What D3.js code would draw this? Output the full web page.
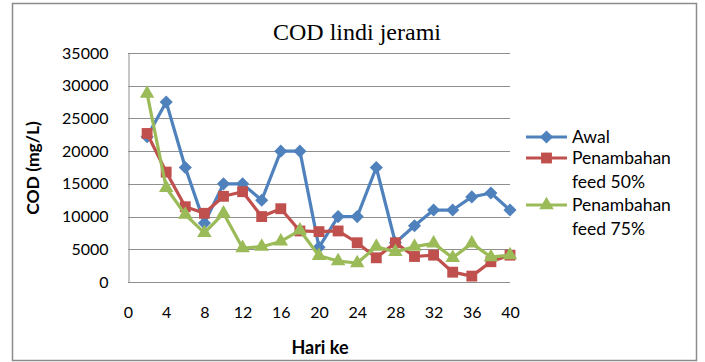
<!DOCTYPE html>
<html lang="en">
<head>
<meta charset="UTF-8">
<title>COD lindi jerami</title>
<style>
  body { margin: 0; background: #fff; }
  svg { display: block; }
</style>
</head>
<body>
<svg id="chart"></svg>
<script src="https://cdn.jsdelivr.net/npm/d3@7/dist/d3.min.js"></script>
<script>
// data
const hari = [2, 4, 6, 8, 10, 12, 14, 16, 18, 20, 22, 24, 26, 28, 30, 32, 34, 36, 38, 40];
const awal = [22200, 27500, 17500, 9000, 15000, 15000, 12500, 20000, 20000, 5300, 10000, 10000, 17500, 6000, 8600, 11000, 11000, 13000, 13600, 11000];
const feed50 = [22700, 16800, 11500, 10500, 13100, 13800, 10000, 11200, 7800, 7700, 7800, 6000, 3700, 6000, 3900, 4100, 1500, 900, 3100, 4100];
const feed75 = [28800, 14400, 10300, 7500, 10500, 5200, 5400, 6200, 7900, 4000, 3200, 2900, 5400, 4600, 5400, 5900, 3700, 5900, 3800, 4100];
const xTicks = [0, 4, 8, 12, 16, 20, 24, 28, 32, 36, 40];
const yTicks = [0, 5000, 10000, 15000, 20000, 25000, 30000, 35000];

const series = [
  { name: ["Awal"], values: awal, color: "#4F81BD", marker: d3.symbolDiamond2, size: 110 },
  { name: ["Penambahan", "feed 50%"], values: feed50, color: "#C0504D", marker: d3.symbolSquare2, size: 150 },
  { name: ["Penambahan", "feed 75%"], values: feed75, color: "#9BBB59", marker: d3.symbolTriangle2, size: 150 }
];

const W = 705, H = 362;
const svg = d3.select("#chart").attr("width", W).attr("height", H);
const font = "Lato, 'Open Sans', sans-serif";

// outer frame
svg.append("rect")
  .attr("x", 12.5).attr("y", 3.5)
  .attr("width", 684).attr("height", 357)
  .attr("fill", "#fff").attr("stroke", "#8c8c8c").attr("stroke-width", 1.5);

const x = d3.scaleLinear().domain([0, 40]).range([128, 510]);
const y = d3.scaleLinear().domain([0, 35000]).range([282, 53]);

// gridlines
svg.append("g")
  .selectAll("line")
  .data(yTicks)
  .enter().append("line")
  .attr("x1", x(0)).attr("x2", x(40))
  .attr("y1", d => Math.round(y(d)) + 0.5).attr("y2", d => Math.round(y(d)) + 0.5)
  .attr("stroke", "#8f8f8f").attr("stroke-width", 1);

// y axis
const yAxis = svg.append("g")
  .attr("transform", "translate(" + (x(0) + 0.5) + ",0)")
  .call(d3.axisLeft(y).tickValues(yTicks).tickSize(0).tickPadding(20).tickFormat(d3.format("d")));
yAxis.select(".domain").attr("stroke", "#8f8f8f");
yAxis.selectAll("text").attr("font-family", font).attr("font-size", 16).attr("fill", "#000");

// x axis
const xAxis = svg.append("g")
  .attr("transform", "translate(0," + (Math.round(y(0)) + 0.5) + ")")
  .call(d3.axisBottom(x).tickValues(xTicks).tickSize(0).tickPadding(24).tickFormat(d3.format("d")));
xAxis.select(".domain").remove();
xAxis.selectAll("text").attr("font-family", font).attr("font-size", 16).attr("fill", "#000");

// titles
svg.append("text")
  .attr("x", 357).attr("y", 40)
  .attr("text-anchor", "middle")
  .attr("font-family", "'Liberation Serif', 'Times New Roman', serif")
  .attr("font-size", 24)
  .text("COD lindi jerami");

svg.append("text")
  .attr("x", 320).attr("y", 354)
  .attr("text-anchor", "middle")
  .attr("font-family", font).attr("font-weight", "bold").attr("font-size", 18)
  .text("Hari ke");

svg.append("text")
  .attr("transform", "translate(39,168) rotate(-90)")
  .attr("text-anchor", "middle")
  .attr("font-family", font).attr("font-weight", "bold").attr("font-size", 17.5)
  .text("COD (mg/L)");

// series
const line = d3.line().x(d => x(d[0])).y(d => y(d[1]));
series.forEach(s => {
  const pts = hari.map((h, i) => [h, s.values[i]]);
  const g = svg.append("g");
  g.append("path")
    .datum(pts)
    .attr("d", line)
    .attr("fill", "none")
    .attr("stroke", s.color)
    .attr("stroke-width", 3.2)
    .attr("stroke-linejoin", "round");
  g.selectAll("path.m")
    .data(pts)
    .enter().append("path")
    .attr("class", "m")
    .attr("transform", d => "translate(" + x(d[0]) + "," + y(d[1]) + ")")
    .attr("d", d3.symbol().type(s.marker).size(s.size))
    .attr("fill", s.color);
});

// legend
const legendY = [137, 158, 205];
series.forEach((s, i) => {
  const g = svg.append("g").attr("transform", "translate(0," + legendY[i] + ")");
  g.append("line").attr("x1", 526).attr("x2", 567).attr("y1", 0).attr("y2", 0)
    .attr("stroke", s.color).attr("stroke-width", 3.2);
  g.append("path").attr("transform", "translate(546.5,0)")
    .attr("d", d3.symbol().type(s.marker).size(s.size)).attr("fill", s.color);
  s.name.forEach((t, j) => {
    g.append("text")
      .attr("x", 572).attr("y", j * 24 + 6)
      .attr("font-family", font).attr("font-size", 17.5)
      .text(t);
  });
});
</script>
</body>
</html>
